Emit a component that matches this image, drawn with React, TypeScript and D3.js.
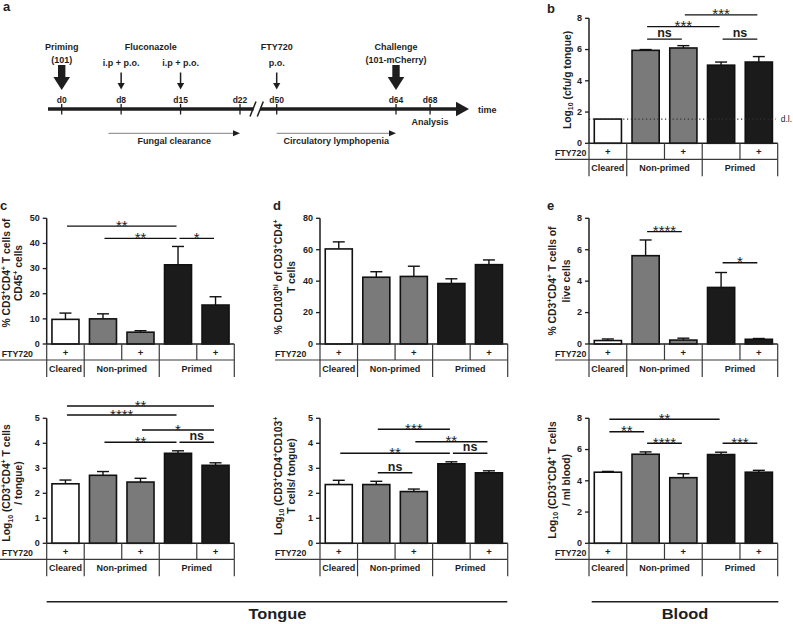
import React from 'react';
import * as d3 from 'd3';

// ---------- data ----------
const groupLabels = ['Cleared', 'Non-primed', 'Primed'];
const groupSpans = [[0, 1], [1, 3], [3, 5]];
const ftyMarks = ['+', '', '+', '', '+'];
const barFills = ['#ffffff', '#7a7a7a', '#7a7a7a', '#1b1b1b', '#1b1b1b'];

const bValues = [1.55, 5.95, 6.1, 5.0, 5.2];
const bErrors = [0, 0.05, 0.15, 0.2, 0.35];
const bSigs: [number, number, number, string][] = [[1, 2, 6.67, 'ns'], [1, 3, 7.47, '***'], [2, 4, 8.22, '***'], [3, 4, 6.67, 'ns']];
const bDetectionLimit = 1.55;

const cTopValues = [9.8, 10.0, 4.7, 31.5, 15.5];
const cTopErrors = [2.5, 2.0, 0.6, 7.3, 3.3];
const cTopSigs: [number, number, number, string][] = [[0, 3, 46.9, '**'], [1, 3, 42.0, '**'], [3, 4, 42.0, '*']];

const cBotValues = [2.38, 2.72, 2.45, 3.6, 3.12];
const cBotErrors = [0.15, 0.15, 0.15, 0.1, 0.1];
const cBotSigs: [number, number, number, string][] = [[0, 4, 5.49, '**'], [0, 3, 5.13, '****'], [2, 4, 4.53, '*'], [1, 3, 4.04, '**'], [3, 4, 4.04, 'ns']];

const dTopValues = [60.5, 42.5, 43.0, 38.5, 50.5];
const dTopErrors = [4.5, 3.5, 6.5, 3.0, 3.0];
const dTopSigs: [number, number, number, string][] = [];

const dBotValues = [2.35, 2.35, 2.07, 3.18, 2.82];
const dBotErrors = [0.17, 0.13, 0.1, 0.08, 0.08];
const dBotSigs: [number, number, number, string][] = [[1, 3, 4.56, '***'], [2, 4, 4.06, '**'], [0, 3, 3.6, '**'], [3, 4, 3.6, 'ns'], [1, 2, 2.82, 'ns']];

const eTopValues = [0.22, 5.62, 0.25, 3.6, 0.3];
const eTopErrors = [0.1, 1.0, 0.12, 0.95, 0.05];
const eTopSigs: [number, number, number, string][] = [[1, 2, 7.15, '****'], [3, 4, 5.17, '*']];

const eBotValues = [4.55, 5.7, 4.2, 5.68, 4.55];
const eBotErrors = [0.05, 0.15, 0.25, 0.15, 0.12];
const eBotSigs: [number, number, number, string][] = [[0, 3, 7.94, '**'], [0, 1, 7.14, '**'], [1, 2, 6.4, '****'], [3, 4, 6.4, '***']];

// timeline
const segment1Days = [0, 8, 15, 22];
const segment2Days = [50, 64, 68];
const bigArrows: [number, string, string][] = [[0, 'Priming', '(101)'], [64, 'Challenge', '(101-mCherry)']];
const smallArrows: [number, string][] = [[8, 'i.p + p.o.'], [15, 'i.p + p.o.'], [50, 'p.o.']];
const periods: [number, number, string][] = [[8, 22, 'Fungal clearance'], [50, 64, 'Circulatory lymphopenia']];

const FONT = '"Liberation Sans", Arial, Helvetica, sans-serif';
const INK = '#1e1e1e';

function parseRich(s: string) {
  const out: { t: string; k: string }[] = [];
  const re = /([_^])\{([^}]*)\}/g;
  let last = 0;
  let m: RegExpExecArray | null;
  while ((m = re.exec(s))) {
    if (m.index > last) out.push({ t: s.slice(last, m.index), k: 'n' });
    out.push({ t: m[2], k: m[1] === '^' ? 'sup' : 'sub' });
    last = re.lastIndex;
  }
  if (last < s.length) out.push({ t: s.slice(last), k: 'n' });
  return out;
}

function Rich({ text, fs }: { text: string; fs: number }) {
  let off = 0;
  return (
    <>
      {parseRich(text).map((seg, i) => {
        const target = seg.k === 'sup' ? -0.38 * fs : seg.k === 'sub' ? 0.28 * fs : 0;
        const dy = target - off;
        off = target;
        return (
          <tspan key={i} dy={dy} fontSize={seg.k === 'n' ? fs : fs * 0.68}>
            {seg.t}
          </tspan>
        );
      })}
    </>
  );
}

type PanelProps = {
  x0: number; x1: number; yTop: number; yBase: number; ymax: number; step: number;
  values: number[]; errors: number[]; sigs: [number, number, number, string][];
  title: string[]; titleX: number[]; titleY: number; labelLeft: number; lineLeft: number;
  dl?: number;
};

function BarPanel(p: PanelProps) {
  const x = d3.scaleBand<number>().domain(d3.range(5)).range([p.x0, p.x1]).paddingInner(0.28).paddingOuter(0.14);
  const y = d3.scaleLinear().domain([0, p.ymax]).range([p.yBase, p.yTop]);
  const col = (p.x1 - p.x0) / 5;
  const cx = (i: number) => (x(i) as number) + x.bandwidth() / 2;
  const ticks = d3.range(0, p.ymax + p.step / 2, p.step);
  const r1 = p.yBase + 16;
  const r2 = p.yBase + 33;
  const tableColor = '#3a3a3a';
  return (
    <g fontFamily={FONT} fontWeight="bold" fill={INK}>
      {p.values.map((v, i) => (
        <g key={i}>
          {p.errors[i] > 0 && (
            <g stroke="#111" strokeWidth={1.4}>
              <line x1={cx(i)} x2={cx(i)} y1={y(v)} y2={y(v + p.errors[i])} />
              <line x1={cx(i) - 6} x2={cx(i) + 6} y1={y(v + p.errors[i])} y2={y(v + p.errors[i])} />
            </g>
          )}
          <rect x={x(i)} y={y(v)} width={x.bandwidth()} height={p.yBase - y(v)} fill={barFills[i]} stroke="#111" strokeWidth={1.6} />
        </g>
      ))}
      {p.dl !== undefined && (
        <g>
          <line x1={p.x0} x2={p.x1 - 2} y1={y(p.dl)} y2={y(p.dl)} stroke="#333" strokeWidth={1.2} strokeDasharray="1.2,2.6" />
          <text x={p.x1 + 3} y={y(p.dl) + 3} fontSize={8.5} fontWeight="normal">d.l.</text>
        </g>
      )}
      <line x1={p.x0} x2={p.x0} y1={p.yTop} y2={p.yBase} stroke={INK} strokeWidth={1.5} />
      {ticks.map((t) => (
        <g key={t}>
          <line x1={p.x0 - 4} x2={p.x0} y1={y(t)} y2={y(t)} stroke={INK} strokeWidth={1.3} />
          <text x={p.x0 - 7} y={y(t) + 2.8} fontSize={9} textAnchor="end">{t}</text>
        </g>
      ))}
      <line x1={p.x0} x2={p.x1} y1={p.yBase} y2={p.yBase} stroke={INK} strokeWidth={1.6} />
      <line x1={p.lineLeft} x2={p.x1} y1={r1} y2={r1} stroke={tableColor} strokeWidth={1.2} />
      {d3.range(6).map((k) => (
        <line key={k} x1={p.x0 + k * col} x2={p.x0 + k * col} y1={p.yBase} y2={r1} stroke={tableColor} strokeWidth={1.2} />
      ))}
      {[0, 1, 3, 5].map((k) => (
        <line key={k} x1={p.x0 + k * col} x2={p.x0 + k * col} y1={r1} y2={r2} stroke={tableColor} strokeWidth={1.2} />
      ))}
      <text x={p.labelLeft} y={p.yBase + 12.5} fontSize={8.8}>FTY720</text>
      {ftyMarks.map((m, i) => (
        <text key={i} x={cx(i)} y={p.yBase + 11.5} fontSize={9.5} textAnchor="middle">{m}</text>
      ))}
      {groupLabels.map((g, i) => (
        <text key={g} x={p.x0 + ((groupSpans[i][0] + groupSpans[i][1]) / 2) * col} y={p.yBase + 28} fontSize={9} textAnchor="middle">{g}</text>
      ))}
      {p.sigs.map(([a, b, h, lab], i) => {
        const yy = y(h);
        const isNs = lab === 'ns';
        return (
          <g key={i}>
            <line x1={cx(a) + 1.5} x2={cx(b) - 1.5} y1={yy} y2={yy} stroke="#111" strokeWidth={1.4} />
            <text x={(cx(a) + cx(b)) / 2} y={isNs ? yy - 2 : yy + 4.6} fontSize={isNs ? 12.5 : 15} fontWeight={isNs ? 'bold' : 'normal'} textAnchor="middle">{lab}</text>
          </g>
        );
      })}
      {p.title.map((t, i) => (
        <text key={i} transform={`translate(${p.titleX[i]},${p.titleY}) rotate(-90)`} fontSize={10} textAnchor="middle">
          <Rich text={t} fs={10.3} />
        </text>
      ))}
    </g>
  );
}

function Timeline() {
  const s1 = d3.scalePoint<number>().domain(segment1Days).range([61.7, 240]);
  const s2 = d3.scaleLinear().domain([50, 64]).range([276.7, 396]);
  const dx = (d: number) => (d <= 22 ? (s1(d) as number) : s2(d));
  const lineY = 109;
  const allDays = [...segment1Days, ...segment2Days];
  return (
    <g fontFamily={FONT} fontWeight="bold" fill={INK}>
      <line x1={48} x2={253.5} y1={lineY} y2={lineY} stroke={INK} strokeWidth={3.3} />
      <line x1={260} x2={458} y1={lineY} y2={lineY} stroke={INK} strokeWidth={3.3} />
      <polygon points={`456,101.7 469,${lineY} 456,116.3`} fill={INK} />
      <line x1={250} y1={116.5} x2={256} y2={101.5} stroke={INK} strokeWidth={1.5} />
      <line x1={257.3} y1={116.5} x2={263.3} y2={101.5} stroke={INK} strokeWidth={1.5} />
      {allDays.map((d) => (
        <g key={d}>
          <line x1={dx(d)} x2={dx(d)} y1={104} y2={114.5} stroke={INK} strokeWidth={1.3} />
          <text x={dx(d)} y={103} fontSize={8.5} textAnchor="middle">{`d${d}`}</text>
        </g>
      ))}
      <text x={478} y={112.5} fontSize={9}>time</text>
      <text x={dx(68)} y={125} fontSize={9} textAnchor="middle">Analysis</text>
      {bigArrows.map(([d, t1, t2]) => (
        <g key={d}>
          <rect x={dx(d) - 3.7} y={65} width={7.4} height={12.5} fill={INK} />
          <polygon points={`${dx(d) - 8.3},77 ${dx(d) + 8.3},77 ${dx(d)},90`} fill={INK} />
          <text x={dx(d)} y={50} fontSize={9} textAnchor="middle">{t1}</text>
          <text x={dx(d)} y={62.5} fontSize={9} textAnchor="middle">{t2}</text>
        </g>
      ))}
      {smallArrows.map(([d, t], i) => (
        <g key={i}>
          <line x1={dx(d)} x2={dx(d)} y1={72.5} y2={84} stroke={INK} strokeWidth={1.5} />
          <polygon points={`${dx(d) - 3.6},83 ${dx(d) + 3.6},83 ${dx(d)},89.5`} fill={INK} />
          <text x={dx(d)} y={66} fontSize={9} textAnchor="middle">{t}</text>
        </g>
      ))}
      <text x={(dx(8) + dx(15)) / 2} y={50} fontSize={9} textAnchor="middle">Fluconazole</text>
      <text x={dx(50)} y={50} fontSize={9} textAnchor="middle">FTY720</text>
      {periods.map(([a, b, lab], i) => {
        const xa = i === 0 ? dx(a) - 12.7 : dx(a);
        const xb = dx(b);
        return (
          <g key={lab}>
            <line x1={xa} x2={xb - 6} y1={133.3} y2={133.3} stroke="#999" strokeWidth={1.2} />
            <polygon points={`${xb - 7},130.3 ${xb},133.3 ${xb - 7},136.3`} fill={INK} />
            <text x={(xa + xb) / 2} y={144} fontSize={9} textAnchor="middle">{lab}</text>
          </g>
        );
      })}
    </g>
  );
}

export default function App() {
  const left = { x0: 46.7, x1: 234.3, labelLeft: 1.7, lineLeft: 0 };
  const mid = { x0: 320, x1: 507.7, labelLeft: 275, lineLeft: 275 };
  const right = { x0: 589, x1: 777.7, labelLeft: 555, lineLeft: 555 };
  const top = { yTop: 218.3, yBase: 344 };
  const bot = { yTop: 418.3, yBase: 543.3 };
  return (
    <svg width={793} height={624} style={{ position: 'absolute', left: 0, top: 0, background: '#fff' }}>
      <rect width={793} height={624} fill="#fff" />
      <g fontFamily={FONT} fontWeight="bold" fontSize={13} fill={INK}>
        <text x={3} y={11}>a</text>
        <text x={547} y={13}>b</text>
        <text x={0} y={210}>c</text>
        <text x={273} y={210}>d</text>
        <text x={547} y={210}>e</text>
      </g>
      <Timeline />
      <BarPanel {...right} yTop={18.3} yBase={143.3} ymax={8} step={2} values={bValues} errors={bErrors} sigs={bSigs}
        title={['Log_{10} (cfu/g tongue)']} titleX={[570.5]} titleY={80} dl={bDetectionLimit} />
      <BarPanel {...left} {...top} ymax={50} step={10} values={cTopValues} errors={cTopErrors} sigs={cTopSigs}
        title={['% CD3^{+}CD4^{+} T cells of', 'CD45^{+} cells']} titleX={[10, 22]} titleY={273} />
      <BarPanel {...left} {...bot} ymax={5} step={1} values={cBotValues} errors={cBotErrors} sigs={cBotSigs}
        title={['Log_{10} (CD3^{+}CD4^{+} T cells', '/ tongue)']} titleX={[10, 22]} titleY={483} />
      <BarPanel {...mid} {...top} ymax={80} step={20} values={dTopValues} errors={dTopErrors} sigs={dTopSigs}
        title={['% CD103^{hi} of CD3^{+}CD4^{+}', 'T cells']} titleX={[281.5, 295]} titleY={277} />
      <BarPanel {...mid} {...bot} ymax={5} step={1} values={dBotValues} errors={dBotErrors} sigs={dBotSigs}
        title={['Log_{10} (CD3^{+}CD4^{+}CD103^{+}', 'T cells/ tongue)']} titleX={[281.5, 295]} titleY={476} />
      <BarPanel {...right} {...top} ymax={8} step={2} values={eTopValues} errors={eTopErrors} sigs={eTopSigs}
        title={['% CD3^{+}CD4^{+} T cells of', 'live cells']} titleX={[555.5, 570]} titleY={281} />
      <BarPanel {...right} {...bot} ymax={8} step={2} values={eBotValues} errors={eBotErrors} sigs={eBotSigs}
        title={['Log_{10} (CD3^{+}CD4^{+} T cells', '/ ml blood)']} titleX={[555.5, 570]} titleY={480} />
      <g fontFamily={FONT} fontWeight="bold" fill={INK}>
        <line x1={46.7} x2={507.3} y1={601.7} y2={601.7} stroke={INK} strokeWidth={1.5} />
        <text x={277.5} y={619} fontSize={14} textAnchor="middle" textLength={58} lengthAdjust="spacingAndGlyphs">Tongue</text>
        <line x1={591.7} x2={778.3} y1={601.7} y2={601.7} stroke={INK} strokeWidth={1.5} />
        <text x={685} y={619} fontSize={14} textAnchor="middle" textLength={46.5} lengthAdjust="spacingAndGlyphs">Blood</text>
      </g>
    </svg>
  );
}
